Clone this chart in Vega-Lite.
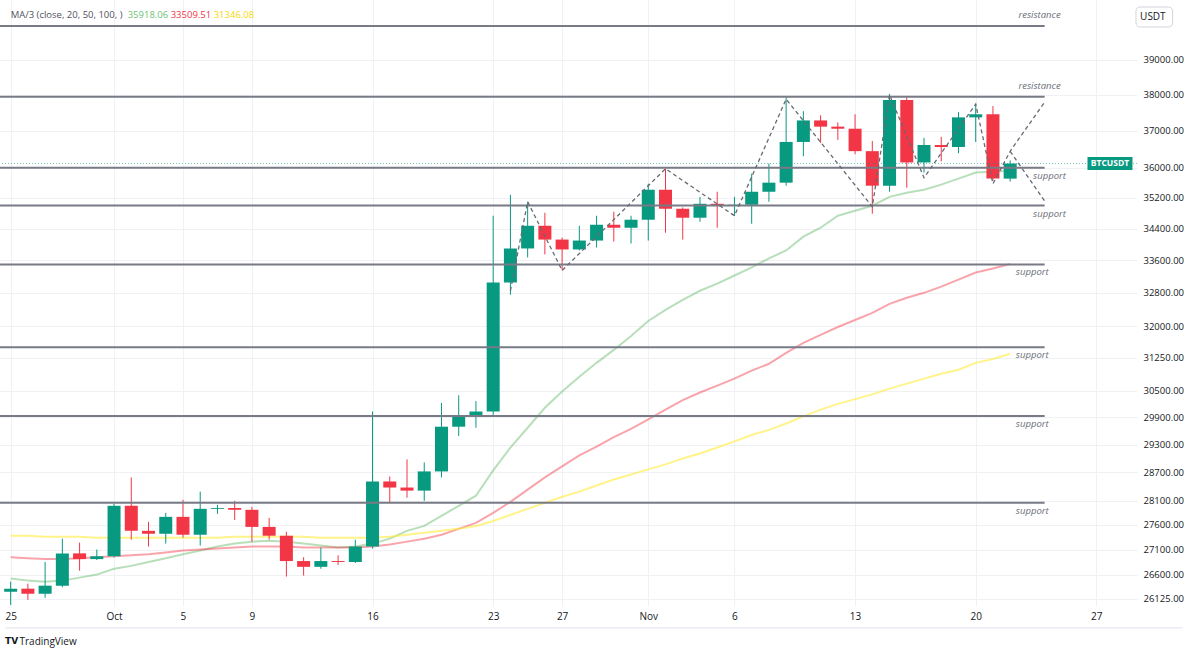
{
  "$schema": "https://vega.github.io/schema/vega-lite/v6.json",
  "width": 1137,
  "height": 606,
  "autosize": {"type": "none"},
  "padding": {"left": 0, "top": 0, "right": 51, "bottom": 43},
  "background": "white",
  "config": {
    "view": {"stroke": null},
    "font": "Open Sans",
    "axis": {"grid": true, "gridColor": "#f0f1f4", "gridWidth": 1, "domain": false, "ticks": false, "tickSize": 0, "labelFont": "Open Sans", "labelColor": "#131722", "titleFont": "Open Sans"}
  },
  "datasets": {
    "btc": [
      {"d":"2023-09-25","o":26263,"h":26461,"l":26006,"c":26323,"m20":26521,"m50":26946,"m100":27380},
      {"d":"2023-09-26","o":26323,"h":26422,"l":26105,"c":26224,"m20":26481,"m50":26927,"m100":27380},
      {"d":"2023-09-27","o":26224,"h":26850,"l":26145,"c":26382,"m20":26461,"m50":26908,"m100":27360},
      {"d":"2023-09-28","o":26382,"h":27320,"l":26350,"c":27023,"m20":26481,"m50":26908,"m100":27360},
      {"d":"2023-09-29","o":27023,"h":27240,"l":26677,"c":26908,"m20":26540,"m50":26927,"m100":27360},
      {"d":"2023-09-30","o":26908,"h":27100,"l":26890,"c":26965,"m20":26600,"m50":26946,"m100":27340},
      {"d":"2023-10-01","o":26965,"h":28037,"l":26940,"c":27996,"m20":26715,"m50":26965,"m100":27340},
      {"d":"2023-10-02","o":27996,"h":28593,"l":27300,"c":27480,"m20":26773,"m50":26985,"m100":27340},
      {"d":"2023-10-03","o":27480,"h":27663,"l":27160,"c":27420,"m20":26850,"m50":27004,"m100":27340},
      {"d":"2023-10-04","o":27420,"h":27850,"l":27220,"c":27767,"m20":26927,"m50":27042,"m100":27340},
      {"d":"2023-10-05","o":27767,"h":28121,"l":27340,"c":27400,"m20":27004,"m50":27081,"m100":27340},
      {"d":"2023-10-06","o":27400,"h":28293,"l":27180,"c":27933,"m20":27081,"m50":27100,"m100":27340},
      {"d":"2023-10-07","o":27933,"h":28017,"l":27829,"c":27950,"m20":27160,"m50":27120,"m100":27340},
      {"d":"2023-10-08","o":27950,"h":28100,"l":27704,"c":27913,"m20":27220,"m50":27140,"m100":27360},
      {"d":"2023-10-09","o":27913,"h":27975,"l":27260,"c":27560,"m20":27260,"m50":27160,"m100":27360},
      {"d":"2023-10-10","o":27560,"h":27746,"l":27300,"c":27380,"m20":27280,"m50":27160,"m100":27360},
      {"d":"2023-10-11","o":27380,"h":27460,"l":26560,"c":26869,"m20":27260,"m50":27160,"m100":27360},
      {"d":"2023-10-12","o":26869,"h":26946,"l":26580,"c":26754,"m20":27220,"m50":27140,"m100":27360},
      {"d":"2023-10-13","o":26754,"h":27140,"l":26715,"c":26869,"m20":27180,"m50":27140,"m100":27340},
      {"d":"2023-10-14","o":26869,"h":26985,"l":26792,"c":26850,"m20":27140,"m50":27140,"m100":27340},
      {"d":"2023-10-15","o":26850,"h":27300,"l":26830,"c":27160,"m20":27160,"m50":27140,"m100":27340},
      {"d":"2023-10-16","o":27160,"h":30029,"l":27120,"c":28507,"m20":27220,"m50":27160,"m100":27340},
      {"d":"2023-10-17","o":28507,"h":28614,"l":28058,"c":28379,"m20":27320,"m50":27200,"m100":27360},
      {"d":"2023-10-18","o":28379,"h":28979,"l":28164,"c":28314,"m20":27480,"m50":27260,"m100":27400},
      {"d":"2023-10-19","o":28314,"h":28914,"l":28100,"c":28721,"m20":27580,"m50":27320,"m100":27440},
      {"d":"2023-10-20","o":28721,"h":30221,"l":28593,"c":29692,"m20":27788,"m50":27400,"m100":27480},
      {"d":"2023-10-21","o":29692,"h":30393,"l":29485,"c":29943,"m20":27996,"m50":27520,"m100":27520},
      {"d":"2023-10-22","o":29943,"h":30264,"l":29670,"c":30029,"m20":28207,"m50":27642,"m100":27580},
      {"d":"2023-10-23","o":30029,"h":34735,"l":29950,"c":33050,"m20":28743,"m50":27850,"m100":27683},
      {"d":"2023-10-24","o":33050,"h":35280,"l":32752,"c":33900,"m20":29236,"m50":28079,"m100":27808},
      {"d":"2023-10-25","o":33900,"h":35097,"l":33675,"c":34477,"m20":29669,"m50":28336,"m100":27933},
      {"d":"2023-10-26","o":34477,"h":34813,"l":33750,"c":34125,"m20":30114,"m50":28593,"m100":28058},
      {"d":"2023-10-27","o":34125,"h":34175,"l":33350,"c":33875,"m20":30479,"m50":28829,"m100":28186},
      {"d":"2023-10-28","o":33875,"h":34477,"l":33850,"c":34100,"m20":30818,"m50":29064,"m100":28293},
      {"d":"2023-10-29","o":34100,"h":34735,"l":33925,"c":34503,"m20":31136,"m50":29257,"m100":28421},
      {"d":"2023-10-30","o":34503,"h":34839,"l":34075,"c":34426,"m20":31437,"m50":29462,"m100":28550},
      {"d":"2023-10-31","o":34426,"h":34735,"l":34025,"c":34632,"m20":31766,"m50":29646,"m100":28657},
      {"d":"2023-11-01","o":34632,"h":35573,"l":34100,"c":35413,"m20":32121,"m50":29854,"m100":28764},
      {"d":"2023-11-02","o":35413,"h":35973,"l":34300,"c":34916,"m20":32388,"m50":30071,"m100":28871},
      {"d":"2023-11-03","o":34916,"h":34950,"l":34125,"c":34684,"m20":32630,"m50":30286,"m100":29000},
      {"d":"2023-11-04","o":34684,"h":35227,"l":34581,"c":35045,"m20":32850,"m50":30457,"m100":29107},
      {"d":"2023-11-05","o":35045,"h":35360,"l":34426,"c":34994,"m20":33025,"m50":30614,"m100":29236},
      {"d":"2023-11-06","o":34994,"h":35227,"l":34735,"c":35020,"m20":33225,"m50":30773,"m100":29369},
      {"d":"2023-11-07","o":35020,"h":35840,"l":34529,"c":35360,"m20":33425,"m50":30955,"m100":29508},
      {"d":"2023-11-08","o":35360,"h":36111,"l":35097,"c":35600,"m20":33650,"m50":31114,"m100":29623},
      {"d":"2023-11-09","o":35600,"h":37943,"l":35520,"c":36694,"m20":33850,"m50":31367,"m100":29762},
      {"d":"2023-11-10","o":36694,"h":37543,"l":36306,"c":37286,"m20":34200,"m50":31602,"m100":29920},
      {"d":"2023-11-11","o":37286,"h":37429,"l":36667,"c":37114,"m20":34426,"m50":31789,"m100":30071},
      {"d":"2023-11-12","o":37114,"h":37229,"l":36750,"c":37057,"m20":34735,"m50":31976,"m100":30200},
      {"d":"2023-11-13","o":37057,"h":37457,"l":36361,"c":36444,"m20":34864,"m50":32145,"m100":30307},
      {"d":"2023-11-14","o":36444,"h":36722,"l":34787,"c":35520,"m20":34994,"m50":32315,"m100":30414},
      {"d":"2023-11-15","o":35520,"h":38028,"l":35360,"c":37857,"m20":35227,"m50":32533,"m100":30545},
      {"d":"2023-11-16","o":37857,"h":37971,"l":35467,"c":36139,"m20":35333,"m50":32679,"m100":30659},
      {"d":"2023-11-17","o":36139,"h":36806,"l":35867,"c":36611,"m20":35413,"m50":32800,"m100":30773},
      {"d":"2023-11-18","o":36611,"h":36833,"l":36167,"c":36556,"m20":35547,"m50":32950,"m100":30886},
      {"d":"2023-11-19","o":36556,"h":37514,"l":36389,"c":37371,"m20":35707,"m50":33125,"m100":30977},
      {"d":"2023-11-20","o":37371,"h":37743,"l":36694,"c":37457,"m20":35867,"m50":33300,"m100":31136},
      {"d":"2023-11-21","o":37457,"h":37686,"l":35650,"c":35707,"m20":35893,"m50":33400,"m100":31227},
      {"d":"2023-11-22","o":35707,"h":36194,"l":35627,"c":36111,"m20":35918.06,"m50":33509.51,"m100":31346.08}
    ],
    "levels": [
      {"d":"2023-09-20","d2":"2023-11-24","p":40000},
      {"d":"2023-09-20","d2":"2023-11-24","p":37950},
      {"d":"2023-09-20","d2":"2023-11-24","p":36000},
      {"d":"2023-09-20","d2":"2023-11-24","p":35000},
      {"d":"2023-09-20","d2":"2023-11-24","p":33500},
      {"d":"2023-09-20","d2":"2023-11-24","p":31500},
      {"d":"2023-09-20","d2":"2023-11-24","p":29930},
      {"d":"2023-09-20","d2":"2023-11-24","p":28060}
    ],
    "notes": [
      {"d":"2023-11-24","p":40000,"t":"resistance"},
      {"d":"2023-11-24","p":37950,"t":"resistance"},
      {"d":"2023-11-25","p":36000,"t":"support"},
      {"d":"2023-11-25","p":35000,"t":"support"},
      {"d":"2023-11-24","p":33500,"t":"support"},
      {"d":"2023-11-24","p":31500,"t":"support"},
      {"d":"2023-11-24","p":29930,"t":"support"},
      {"d":"2023-11-24","p":28060,"t":"support"}
    ],
    "zig": [
      {"leg":"a","k":0,"d":"2023-10-24","p":32850},
      {"leg":"a","k":1,"d":"2023-10-25","p":35100},
      {"leg":"a","k":2,"d":"2023-10-27","p":33350},
      {"leg":"a","k":3,"d":"2023-11-02","p":35970},
      {"leg":"a","k":4,"d":"2023-11-06","p":34735},
      {"leg":"a","k":5,"d":"2023-11-09","p":37880},
      {"leg":"a","k":6,"d":"2023-11-14","p":34970},
      {"leg":"a","k":7,"d":"2023-11-15","p":38000},
      {"leg":"a","k":8,"d":"2023-11-17","p":35730},
      {"leg":"a","k":9,"d":"2023-11-20","p":37740},
      {"leg":"a","k":10,"d":"2023-11-21","p":35570},
      {"leg":"a","k":11,"d":"2023-11-22","p":36440},
      {"leg":"a","k":12,"d":"2023-11-24","p":37800},
      {"leg":"b","k":0,"d":"2023-11-22","p":36440},
      {"leg":"b","k":1,"d":"2023-11-24","p":35120}
    ],
    "last": [
      {"d":"2023-11-27T19:00:00Z","p":36111,"t":"BTCUSDT"}
    ]
  },
  "layer": [
    {
      "data": {"name": "btc"},
      "mark": {"type": "line", "stroke": "#4caf50", "strokeOpacity": 0.4, "strokeWidth": 2},
      "encoding": {
        "x": {"field": "d", "type": "temporal", "title": "TradingView",
          "scale": {"type": "utc", "domain": [{"year":2023,"month":9,"date":24,"hours":16,"minutes":8,"utc":true},{"year":2023,"month":11,"date":29,"hours":1,"minutes":40,"utc":true}]},
          "axis": {
            "values": [
              {"year":2023,"month":9,"date":25,"utc":true},
              {"year":2023,"month":10,"date":1,"utc":true},
              {"year":2023,"month":10,"date":5,"utc":true},
              {"year":2023,"month":10,"date":9,"utc":true},
              {"year":2023,"month":10,"date":16,"utc":true},
              {"year":2023,"month":10,"date":23,"utc":true},
              {"year":2023,"month":10,"date":27,"utc":true},
              {"year":2023,"month":11,"date":1,"utc":true},
              {"year":2023,"month":11,"date":6,"utc":true},
              {"year":2023,"month":11,"date":13,"utc":true},
              {"year":2023,"month":11,"date":20,"utc":true},
              {"year":2023,"month":11,"date":27,"utc":true}
            ],
            "labelExpr": "utcdate(datum.value) == 1 ? utcFormat(datum.value, '%b') : '' + utcdate(datum.value)",
            "labelPadding": 5, "labelFontSize": 10, "labelFlush": false, "labelOverlap": false,
            "titleAnchor": "start", "titleX": 19, "titleY": 35, "titleAlign": "left", "titleBaseline": "middle",
            "titleFontWeight": "normal", "titleFontSize": 10, "titleColor": "#131722"
          }
        },
        "y": {"field": "m20", "type": "quantitative", "title": null,
          "scale": {"type": "log", "domain": [25986, 40779], "nice": false, "zero": false},
          "axis": {"orient": "right", "values": [26125, 26600, 27100, 27600, 28100, 28700, 29300, 29900, 30500, 31250, 32000, 32800, 33600, 34400, 35200, 36000, 37000, 38000, 39000], "format": ".2f", "labelPadding": 6, "labelFontSize": 9.5}
        }
      }
    },
    {
      "data": {"name": "btc"},
      "mark": {"type": "line", "stroke": "#f23645", "strokeOpacity": 0.45, "strokeWidth": 2},
      "encoding": {
        "x": {"field": "d", "type": "temporal", "title": "TradingView"},
        "y": {"field": "m50", "type": "quantitative", "title": null, "axis": {"orient": "right"}}
      }
    },
    {
      "data": {"name": "btc"},
      "mark": {"type": "line", "stroke": "#ffeb3b", "strokeOpacity": 0.6, "strokeWidth": 2},
      "encoding": {
        "x": {"field": "d", "type": "temporal", "title": "TradingView"},
        "y": {"field": "m100", "type": "quantitative", "title": null, "axis": {"orient": "right"}}
      }
    },
    {
      "data": {"name": "btc"},
      "mark": {"type": "rule", "strokeWidth": 1},
      "encoding": {
        "x": {"field": "d", "type": "temporal", "title": "TradingView"},
        "y": {"field": "l", "type": "quantitative", "title": null, "axis": {"orient": "right"}},
        "y2": {"field": "h"},
        "color": {"condition": {"test": "datum.c >= datum.o", "value": "#089981"}, "value": "#f23645"}
      }
    },
    {
      "data": {"name": "btc"},
      "mark": {"type": "bar", "width": 13},
      "encoding": {
        "x": {"field": "d", "type": "temporal", "title": "TradingView"},
        "y": {"field": "o", "type": "quantitative", "title": null, "axis": {"orient": "right"}},
        "y2": {"field": "c"},
        "color": {"condition": {"test": "datum.c >= datum.o", "value": "#089981"}, "value": "#f23645"}
      }
    },
    {
      "data": {"name": "levels"},
      "mark": {"type": "rule", "stroke": "#787b86", "strokeWidth": 2},
      "encoding": {
        "x": {"field": "d", "type": "temporal", "title": "TradingView"},
        "x2": {"field": "d2"},
        "y": {"field": "p", "type": "quantitative", "title": null, "axis": {"orient": "right"}}
      }
    },
    {
      "data": {"name": "notes"},
      "transform": [{"filter": "datum.t == 'resistance'"}],
      "mark": {"type": "text", "align": "right", "baseline": "middle", "dx": 16, "dy": -11, "fontStyle": "italic", "fontSize": 9.5, "color": "#6a6d78", "font": "Open Sans"},
      "encoding": {
        "x": {"field": "d", "type": "temporal", "title": "TradingView"},
        "y": {"field": "p", "type": "quantitative", "title": null, "axis": {"orient": "right"}},
        "text": {"field": "t"}
      }
    },
    {
      "data": {"name": "notes"},
      "transform": [{"filter": "datum.t == 'support'"}],
      "mark": {"type": "text", "align": "right", "baseline": "middle", "dx": 4, "dy": 8, "fontStyle": "italic", "fontSize": 9.5, "color": "#6a6d78", "font": "Open Sans"},
      "encoding": {
        "x": {"field": "d", "type": "temporal", "title": "TradingView"},
        "y": {"field": "p", "type": "quantitative", "title": null, "axis": {"orient": "right"}},
        "text": {"field": "t"}
      }
    },
    {
      "data": {"name": "zig"},
      "mark": {"type": "line", "stroke": "#666a73", "strokeWidth": 1.3, "strokeDash": [4, 3]},
      "encoding": {
        "x": {"field": "d", "type": "temporal", "title": "TradingView"},
        "y": {"field": "p", "type": "quantitative", "title": null, "axis": {"orient": "right"}},
        "detail": {"field": "leg"},
        "order": {"field": "k", "type": "quantitative"}
      }
    },
    {
      "data": {"name": "last"},
      "mark": {"type": "rule", "stroke": "#089981", "strokeWidth": 1, "strokeOpacity": 0.55, "strokeDash": [1, 2]},
      "encoding": {
        "y": {"field": "p", "type": "quantitative", "title": null, "axis": {"orient": "right"}}
      }
    },
    {
      "data": {"name": "last"},
      "mark": {"type": "tick", "orient": "horizontal", "size": 45, "thickness": 13, "color": "#089981", "opacity": 1},
      "encoding": {
        "x": {"field": "d", "type": "temporal", "title": "TradingView"},
        "y": {"field": "p", "type": "quantitative", "title": null, "axis": {"orient": "right"}}
      }
    },
    {
      "data": {"name": "last"},
      "mark": {"type": "text", "align": "center", "baseline": "middle", "fontSize": 8.5, "fontWeight": "bold", "color": "white", "font": "Open Sans"},
      "encoding": {
        "x": {"field": "d", "type": "temporal", "title": "TradingView"},
        "y": {"field": "p", "type": "quantitative", "title": null, "axis": {"orient": "right"}},
        "text": {"field": "t"}
      }
    },
    {
      "data": {"values": [{}]},
      "mark": {"type": "rule", "stroke": "#e0e3eb", "strokeWidth": 1},
      "encoding": {
        "x": {"datum": {"year":2023,"month":9,"date":24,"hours":16,"minutes":8,"utc":true}, "type": "temporal"},
        "x2": {"datum": {"year":2023,"month":12,"date":2,"utc":true}},
        "y": {"datum": 25567, "type": "quantitative"}
      }
    },
    {
      "data": {"values": [{}]},
      "mark": {"type": "text", "text": "TV", "align": "left", "baseline": "middle", "fontSize": 9, "fontWeight": 900, "color": "#131722", "font": "DejaVu Sans", "dx": 0},
      "encoding": {
        "x": {"datum": {"year":2023,"month":9,"date":24,"hours":16,"minutes":8,"utc":true}, "type": "temporal"},
        "y": {"datum": 25319, "type": "quantitative"}
      }
    },
    {
      "data": {"values": [{}]},
      "mark": {"type": "rect", "fill": "white", "stroke": "#d1d4dc", "strokeWidth": 1, "cornerRadius": 4},
      "encoding": {
        "x": {"datum": {"year":2023,"month":11,"date":29,"hours":7,"minutes":12,"utc":true}, "type": "temporal"},
        "x2": {"datum": {"year":2023,"month":12,"date":1,"hours":10,"minutes":19,"utc":true}},
        "y": {"datum": 40567, "type": "quantitative"},
        "y2": {"datum": 39969}
      }
    },
    {
      "data": {"values": [{}]},
      "mark": {"type": "text", "text": "USDT", "align": "center", "baseline": "middle", "fontSize": 10, "color": "#131722", "font": "Open Sans"},
      "encoding": {
        "x": {"datum": {"year":2023,"month":11,"date":30,"hours":6,"minutes":43,"utc":true}, "type": "temporal"},
        "y": {"datum": 40267, "type": "quantitative"}
      }
    },
    {
      "data": {"values": [{}]},
      "mark": {"type": "text", "text": "MA/3 (close, 20, 50, 100, )", "align": "left", "baseline": "middle", "fontSize": 9.5, "color": "#50535e", "font": "Open Sans"},
      "encoding": {
        "x": {"datum": {"year":2023,"month":9,"date":25,"utc":true}, "type": "temporal"},
        "y": {"datum": 40330, "type": "quantitative"}
      }
    },
    {
      "data": {"values": [{}]},
      "mark": {"type": "text", "text": "35918.06", "align": "left", "baseline": "middle", "dx": 117, "fontSize": 9.5, "color": "#6fbf73", "font": "Open Sans"},
      "encoding": {
        "x": {"datum": {"year":2023,"month":9,"date":25,"utc":true}, "type": "temporal"},
        "y": {"datum": 40330, "type": "quantitative"}
      }
    },
    {
      "data": {"values": [{}]},
      "mark": {"type": "text", "text": "33509.51", "align": "left", "baseline": "middle", "dx": 160, "fontSize": 9.5, "color": "#f23645", "font": "Open Sans"},
      "encoding": {
        "x": {"datum": {"year":2023,"month":9,"date":25,"utc":true}, "type": "temporal"},
        "y": {"datum": 40330, "type": "quantitative"}
      }
    },
    {
      "data": {"values": [{}]},
      "mark": {"type": "text", "text": "31346.08", "align": "left", "baseline": "middle", "dx": 203, "fontSize": 9.5, "color": "#f5d90a", "font": "Open Sans"},
      "encoding": {
        "x": {"datum": {"year":2023,"month":9,"date":25,"utc":true}, "type": "temporal"},
        "y": {"datum": 40330, "type": "quantitative"}
      }
    }
  ]
}
